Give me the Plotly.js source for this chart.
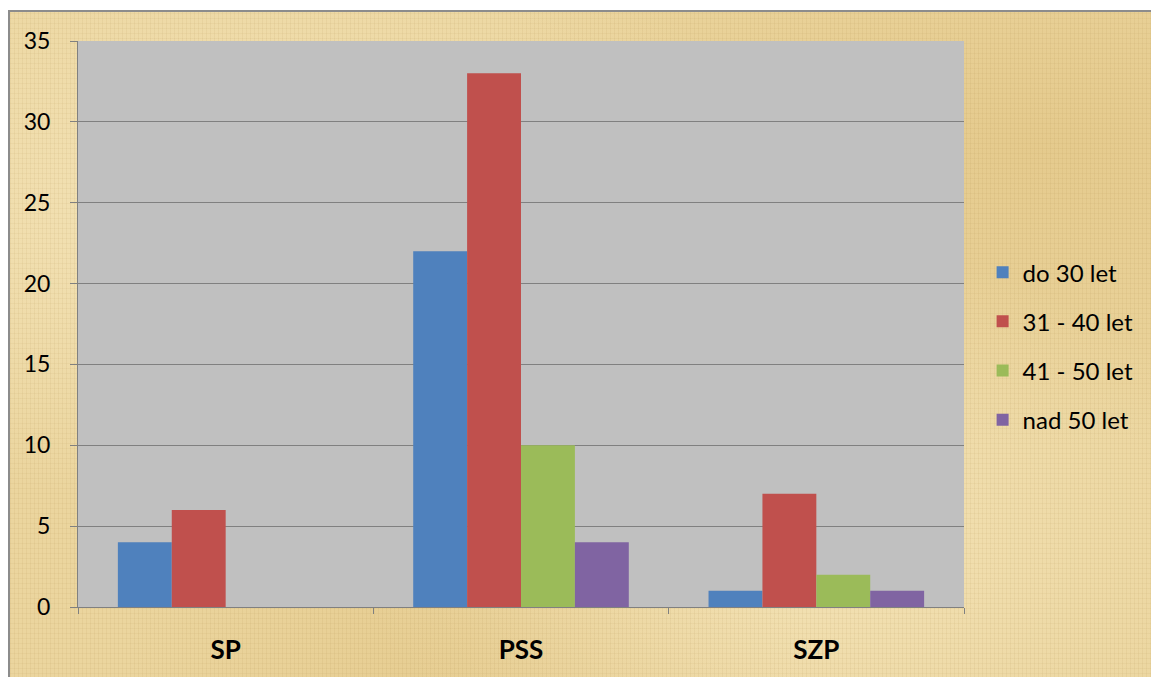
<!DOCTYPE html>
<html>
<head>
<meta charset="utf-8">
<script src="https://cdn.plot.ly/plotly-3.0.1.min.js"></script>
<style>
  html, body { margin: 0; padding: 0; background: #ffffff; }
  #frame {
    position: absolute; left: 8px; top: 10px; width: 1143px; height: 667px;
    border-left: 2px solid #8c8c8c; border-top: 2px solid #8c8c8c;
    background-color: #ebd59e;
    background-image:
      repeating-linear-gradient(90deg, rgba(150,110,40,0.07) 0px, rgba(150,110,40,0.07) 1px, rgba(255,255,255,0) 1px, rgba(255,255,255,0) 4px),
      repeating-linear-gradient(0deg, rgba(150,110,40,0.06) 0px, rgba(150,110,40,0.06) 1px, rgba(255,255,255,0) 1px, rgba(255,255,255,0) 5px),
      radial-gradient(ellipse at 20% 30%, rgba(255,245,215,0.45), rgba(255,245,215,0) 45%),
      radial-gradient(ellipse at 70% 80%, rgba(255,245,215,0.4), rgba(255,245,215,0) 40%),
      radial-gradient(ellipse at 90% 20%, rgba(210,170,90,0.25), rgba(210,170,90,0) 40%),
      radial-gradient(ellipse at 40% 95%, rgba(210,170,90,0.2), rgba(210,170,90,0) 35%);
  }
  #chart { position: absolute; left: 0; top: 0; width: 1151px; height: 677px; }
</style>
</head>
<body>
<div id="frame"></div>
<div id="chart"></div>
<script>
const categories = ["SP", "PSS", "SZP"];
const seriesNames = ["do 30 let", "31 - 40 let", "41 - 50 let", "nad 50 let"];
const do30 = [4, 22, 1];
const let31_40 = [6, 33, 7];
const let41_50 = [0, 10, 2];
const nad50 = [0, 4, 1];
const yTicks = [0, 5, 10, 15, 20, 25, 30, 35];

const colors = ["#4f81bd", "#c0504d", "#9bbb59", "#8064a2"];
const values = [do30, let31_40, let41_50, nad50];

const traces = values.map((v, i) => ({
  type: "bar",
  name: seriesNames[i],
  x: categories,
  y: v,
  marker: { color: colors[i], line: { width: 0 } },
  legendgroup: "g" + i,
  hoverinfo: "skip"
}));

const layout = {
  width: 1151,
  height: 677,
  paper_bgcolor: "rgba(0,0,0,0)",
  plot_bgcolor: "#c0c0c0",
  margin: { l: 78, r: 187, t: 41, b: 70, autoexpand: false },
  barmode: "group",
  bargap: 0.27,
  bargroupgap: 0,
  font: { family: "Lato, 'Open Sans', sans-serif", color: "#000000" },
  xaxis: {
    type: "category",
    tickson: "boundaries",
    ticks: "outside",
    ticklen: 6,
    tickcolor: "#808080",
    showline: true,
    linecolor: "#808080",
    linewidth: 1,
    showgrid: false,
    tickfont: { size: 26, family: "Lato, 'Open Sans', sans-serif", weight: "bold", color: "#000000" },
    ticklabelstandoff: 20
  },
  yaxis: {
    range: [0, 35],
    tickvals: yTicks,
    ticktext: yTicks.map(String),
    ticks: "outside",
    ticklen: 7,
    tickcolor: "#808080",
    showline: true,
    linecolor: "#808080",
    linewidth: 1,
    showgrid: true,
    gridcolor: "#808080",
    gridwidth: 1,
    zeroline: false,
    tickfont: { size: 23, color: "#000000" },
    ticklabelstandoff: 15
  },
  showlegend: true,
  legend: {
    x: 1.021,
    xanchor: "left",
    y: 0.461,
    yanchor: "middle",
    bgcolor: "rgba(0,0,0,0)",
    font: { size: 24, color: "#000000" },
    traceorder: "grouped",
    tracegroupgap: 15,
    itemwidth: 30,
    itemclick: false
  }
};

Plotly.newPlot("chart", traces, layout, { displayModeBar: false, staticPlot: true });
</script>
</body>
</html>
